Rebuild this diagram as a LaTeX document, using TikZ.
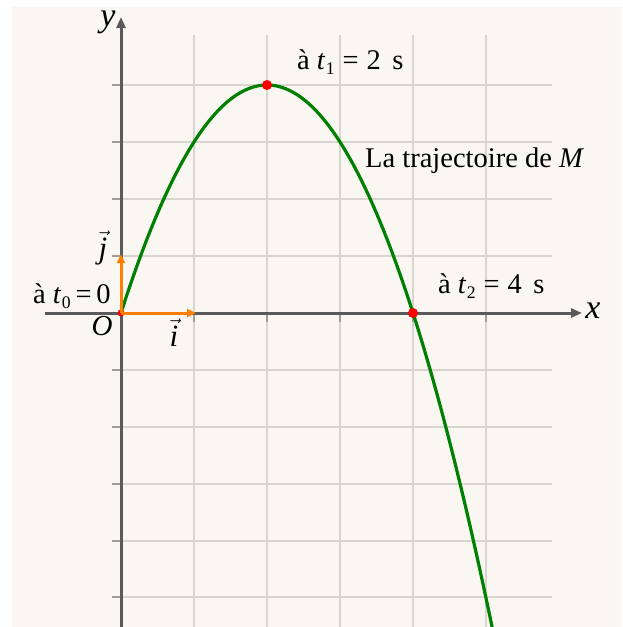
\documentclass[tikz,border=0pt]{standalone}
\usepackage{fontspec}
\setmainfont{Liberation Serif}
\usetikzlibrary{arrows.meta}
\definecolor{bgc}{HTML}{FAF6F2}
\definecolor{gridc}{HTML}{D8D4D0}
\definecolor{tickc}{HTML}{A09C98}
\definecolor{axisc}{HTML}{5A5A5A}
\definecolor{curvec}{HTML}{008000}
\definecolor{vecc}{HTML}{FF8000}
\newcommand{\sbx}[1]{\raisebox{-0.45ex}{\scalebox{0.62}{#1}}}
\newcommand{\tsub}[1]{\textit{t}\kern0.5pt\sbx{#1}}
\begin{document}
\begin{tikzpicture}[x=1pt,y=-1pt,
  lab/.style={inner sep=0pt, font=\fontsize{28.5}{30}\selectfont},
  axlab/.style={inner sep=0pt, font=\fontsize{34}{36}\selectfont\itshape},
  gridline/.style={gridc, line width=1.3pt},
  tickline/.style={tickc, line width=1.5pt},
  axisline/.style={axisc, line width=3pt, -{Triangle[length=11pt,width=9pt]}},
  vecline/.style={vecc, line width=3pt, -{Triangle[length=9pt,width=8pt]}},
  reddot/.style={circle, fill=red, draw=none, inner sep=0pt, minimum size=10pt}]
\useasboundingbox (0,0) rectangle (622,627);
\fill[bgc] (12,7) rectangle (622,627);
% grid
\foreach \yy in {85,142,199,256,370,427,484,541,597}{
  \draw[gridline] (121,\yy) -- (552,\yy);
  \draw[tickline] (112,\yy) -- (121,\yy);
}
\foreach \xx in {194,267,340,413,486}{
  \draw[gridline] (\xx,35) -- (\xx,627);
  \draw[tickline] (\xx,313) -- (\xx,322);
}
% axes
\coordinate (O) at (121,313);
\coordinate (xs) at (45,313);
\coordinate (xe) at (582,313);
\coordinate (ys) at (121,627);
\coordinate (ye) at (121,17);
\draw[axisline] (xs) -- (xe);
\draw[axisline] (ys) -- (ye);
% curve
\begin{scope}
\clip (12,7) rectangle (622,627);
\draw[curvec, line width=3.2pt] plot[domain=0:5.15, samples=120, smooth]
  ({121+73*\x}, {313-57*(4*\x-\x*\x)});
\end{scope}
% points
\node[reddot, minimum size=7pt] (p0) at (O) {};
\node[reddot] (p1) at (267,85) {};
\node[reddot] (p2) at (413,313) {};
% unit vectors
\coordinate (ie) at (196,313);
\coordinate (je) at (121,254);
\draw[vecline] (O) -- (ie);
\draw[vecline] (O) -- (je);
% labels
\node[axlab, anchor=base] (ylab) at (108,26) {y};
\node[axlab, anchor=base] (xlab) at (593,318) {x};
\node[lab, anchor=base] (olab) at (102,335) {\fontsize{29}{30}\selectfont\textit{O}};
\node[lab, anchor=base] (ilab) at (174,346) {\fontsize{31}{32}\selectfont$\vec{\mbox{\textit{i}}}$};
\node[lab, anchor=base] (jlab) at (103,258) {\fontsize{31}{32}\selectfont$\vec{\mbox{\textit{j}}}$};
\node[lab, anchor=base west] (t0) at (33,303) {à \tsub{0}\,=\,0};
\node[lab, anchor=base west] (t1) at (297,69) {à \tsub{1}\;=\;2\hspace{0.4em}s};
\node[lab, anchor=base west] (t2) at (438,293) {à \tsub{2}\;=\;4\hspace{0.4em}s};
\node[lab, anchor=base west] (traj) at (365,167) {La trajectoire de \textit{M}};
\end{tikzpicture}
\end{document}
